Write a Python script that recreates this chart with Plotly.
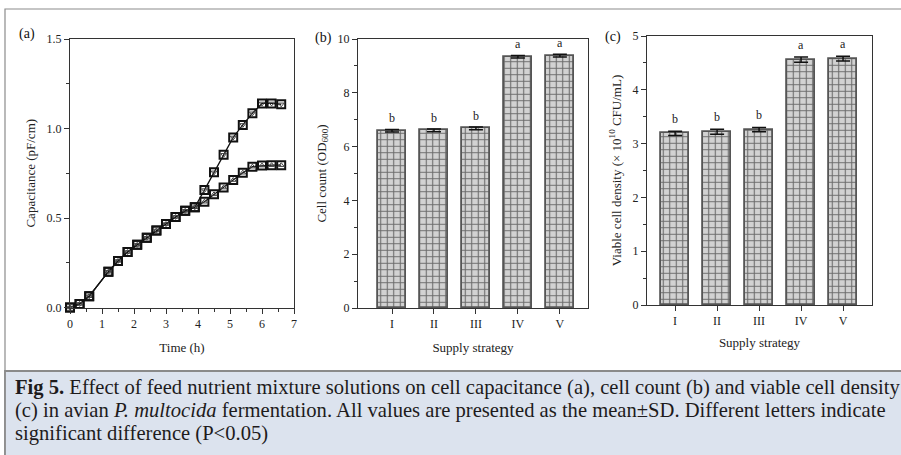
import plotly.graph_objects as go

# ---------------- data ----------------
time_h = [0, 0.3, 0.6, 1.2, 1.5, 1.8, 2.1, 2.4, 2.7, 3.0, 3.3, 3.6, 3.9,
          4.2, 4.5, 4.8, 5.1, 5.4, 5.7, 6.0, 6.3, 6.6]
cap_high = [0, 0.02, 0.063, 0.2, 0.26, 0.31, 0.35, 0.39, 0.43, 0.466, 0.506, 0.54, 0.56,
            0.656, 0.755, 0.853, 0.95, 1.02, 1.085, 1.14, 1.14, 1.135]
cap_low = [0, 0.02, 0.063, 0.2, 0.26, 0.31, 0.35, 0.39, 0.43, 0.466, 0.506, 0.54, 0.56,
           0.591, 0.632, 0.67, 0.712, 0.753, 0.787, 0.793, 0.795, 0.795]

strategies = ["I", "II", "III", "IV", "V"]
strategy_pos = [1, 2, 3, 4, 5]
od600 = [6.59, 6.6, 6.68, 9.34, 9.38]
od600_sd = [0.05, 0.05, 0.05, 0.05, 0.05]
od600_letters = ["b", "b", "b", "a", "a"]
viable = [3.19, 3.22, 3.26, 4.56, 4.58]
viable_sd = [0.04, 0.045, 0.04, 0.05, 0.045]
viable_letters = ["b", "b", "b", "a", "a"]

W, H = 901, 455
SERIF = "Liberation Serif"
AX = "#333333"

def px(x):
    return x / W

def py(y):
    return 1 - y / H

fig = go.Figure()

# ---------------- panel (a) ----------------
for ys, inner in [(cap_low, "triangle-up-open"), (cap_high, "triangle-down-open")]:
    fig.add_trace(go.Scatter(
        x=time_h, y=ys, mode="lines+markers", xaxis="x", yaxis="y",
        line=dict(color="#111111", width=1.3),
        marker=dict(symbol="square-open", size=8, color="#111111", line=dict(width=2)),
        cliponaxis=False, showlegend=False))
    fig.add_trace(go.Scatter(
        x=time_h, y=ys, mode="markers", xaxis="x", yaxis="y",
        marker=dict(symbol=inner, size=5, color="#444444", line=dict(width=1)),
        cliponaxis=False, showlegend=False))

# ---------------- panels (b), (c) ----------------
bar_common = dict(
    width=0.67,
    marker=dict(color="#cfcfcf", line=dict(color="#555555", width=1.8),
                pattern=dict(shape="+", size=6.5, solidity=0.3, fgcolor="#6a6a6a",
                             bgcolor="#d2d2d2")),
    showlegend=False)
fig.add_trace(go.Bar(x=strategy_pos, y=od600, xaxis="x2", yaxis="y2",
                     error_y=dict(type="data", array=od600_sd, color="#111111",
                                  thickness=1.5, width=7), **bar_common))
fig.add_trace(go.Bar(x=strategy_pos, y=viable, xaxis="x3", yaxis="y3",
                     error_y=dict(type="data", array=viable_sd, color="#111111",
                                  thickness=1.5, width=7), **bar_common))

annotations = []
for xv, yv, sd, lt in zip(strategy_pos, od600, od600_sd, od600_letters):
    annotations.append(dict(x=xv, y=yv + sd, xref="x2", yref="y2", text=lt,
                            showarrow=False, yanchor="bottom", yshift=2,
                            font=dict(family=SERIF, size=12, color="#222")))
for xv, yv, sd, lt in zip(strategy_pos, viable, viable_sd, viable_letters):
    annotations.append(dict(x=xv, y=yv + sd, xref="x3", yref="y3", text=lt,
                            showarrow=False, yanchor="bottom", yshift=3,
                            font=dict(family=SERIF, size=12, color="#222")))

# panel labels
for txt, x, y in [("(a)", 17, 34), ("(b)", 313, 38), ("(c)", 603, 37)]:
    annotations.append(dict(x=px(x), y=py(y), xref="paper", yref="paper", text=txt,
                            showarrow=False, xanchor="left", yanchor="middle",
                            font=dict(family=SERIF, size=14, color="#111")))

# caption
caption = [
    "<b>Fig 5.</b> Effect of feed nutrient mixture solutions on cell capacitance (a), cell count (b) and viable cell density",
    "(c) in avian <i>P. multocida</i> fermentation. All values are presented as the mean±SD. Different letters indicate",
    "significant difference (P<0.05)",
]
for i, line in enumerate(caption):
    annotations.append(dict(x=px(13), y=py(387 + 23 * i), xref="paper", yref="paper",
                            text=line, showarrow=False, xanchor="left", yanchor="middle",
                            font=dict(family=SERIF, size=20.6, color="#1e1b1c")))

def axis_common():
    return dict(showline=True, linecolor=AX, linewidth=1, mirror=True,
                showgrid=False, zeroline=False, ticks="outside", ticklen=5,
                tickcolor=AX, tickwidth=1, automargin=False,
                tickfont=dict(family=SERIF, size=12, color="#222"),
                title_font=dict(family=SERIF, size=13, color="#222"))

layout = dict(
    template="none",
    width=W, height=H, margin=dict(l=0, r=0, t=0, b=0, pad=0, autoexpand=False),
    paper_bgcolor="white", plot_bgcolor="white",
    annotations=annotations,
    shapes=[
        dict(type="rect", xref="paper", yref="paper", x0=px(5), x1=px(960),
             y0=py(500), y1=py(9), line=dict(color="#8c8c8c", width=1.2),
             fillcolor="rgba(0,0,0,0)", layer="below"),
        dict(type="rect", xref="paper", yref="paper", x0=px(5), x1=px(960),
             y0=py(500), y1=py(371), line=dict(color="#8a8a8a", width=1.8),
             fillcolor="#dce3ee", layer="below"),
    ],
    bargap=0,
)

xa = axis_common()
xa.update(domain=[px(70), px(294)], range=[0, 7], tickvals=list(range(8)),
          minor=dict(ticks="outside", ticklen=3, dtick=0.5, tickcolor=AX),
          title=dict(text="Time (h)", standoff=12), anchor="y")
ya = axis_common()
ya.update(domain=[py(307.5), py(39)], range=[0, 1.5], tickvals=[0, 0.5, 1.0, 1.5],
          ticktext=["0.0", "0.5", "1.0", "1.5"],
          minor=dict(ticks="outside", ticklen=3, dtick=0.25, tickcolor=AX),
          title=dict(text="Capacitance (pF/cm)", standoff=8), anchor="x")

xb = axis_common()
xb.update(domain=[px(358), px(588)], range=[0.19, 5.67], tickvals=strategy_pos,
          ticktext=strategies, title=dict(text="Supply strategy", standoff=12), anchor="y2")
yb = axis_common()
yb.update(domain=[py(308), py(39)], range=[0, 10], tickvals=[0, 2, 4, 6, 8, 10],
          minor=dict(ticks="outside", ticklen=3, dtick=1, tickcolor=AX),
          title=dict(text="Cell count (OD<sub>600</sub>)", standoff=8), anchor="x2")

xc = axis_common()
xc.update(domain=[px(647), px(872)], range=[0.33, 5.69], tickvals=strategy_pos,
          ticktext=strategies, title=dict(text="Supply strategy", standoff=10), anchor="y3")
yc = axis_common()
yc.update(domain=[py(305), py(36)], range=[0, 5], tickvals=[0, 1, 2, 3, 4, 5],
          minor=dict(ticks="outside", ticklen=3, dtick=0.5, tickcolor=AX),
          title=dict(text="Viable cell density (× 10<sup>10</sup> CFU/mL)", standoff=8),
          anchor="x3")

layout.update(xaxis=xa, yaxis=ya, xaxis2=xb, yaxis2=yb, xaxis3=xc, yaxis3=yc)
fig.update_layout(**layout)
fig.write_html("out.html", config={"displayModeBar": False},
               post_script="document.body.style.margin='0';document.body.style.overflow='hidden';")
